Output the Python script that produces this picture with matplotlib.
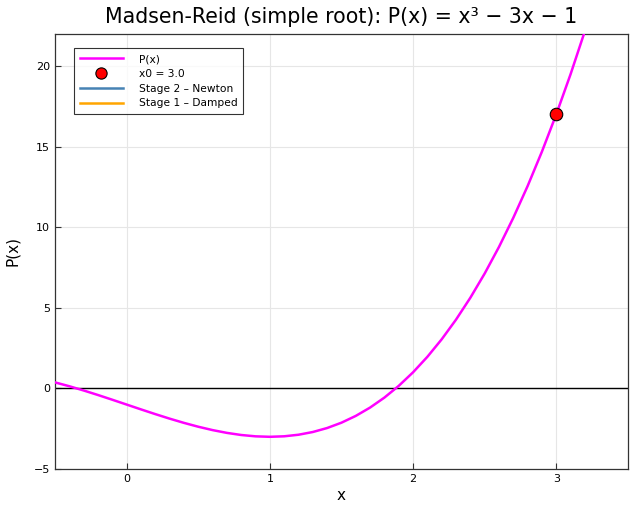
import matplotlib
matplotlib.use("Agg")
import matplotlib.pyplot as plt
import numpy as np

# Curve samples of P(x) = x^3 - 3x - 1
x_vals = [-0.5, -0.4, -0.3, -0.2, -0.1, 0.0, 0.1, 0.2, 0.3, 0.4, 0.5, 0.6, 0.7, 0.8, 0.9,
          1.0, 1.1, 1.2, 1.3, 1.4, 1.5, 1.6, 1.7, 1.8, 1.9, 2.0, 2.1, 2.2, 2.3, 2.4, 2.5,
          2.6, 2.7, 2.8, 2.9, 3.0, 3.1, 3.2, 3.3]
p_vals = [0.375, 0.136, -0.127, -0.408, -0.701, -1.0, -1.299, -1.592, -1.873, -2.136, -2.375,
          -2.584, -2.757, -2.888, -2.971, -3.0, -2.969, -2.872, -2.703, -2.456, -2.125, -1.704,
          -1.187, -0.568, 0.159, 1.0, 1.961, 3.048, 4.267, 5.624, 7.125, 8.776, 10.583, 12.552,
          14.689, 17.0, 19.491, 22.168, 25.037]
x0 = [3.0]
p_x0 = [17.0]
x_ticks = [0, 1, 2, 3]
y_ticks = [-5, 0, 5, 10, 15, 20]

fig = plt.figure(figsize=(6.4, 5.2), dpi=100)
ax = fig.add_axes([0.086, 0.098, 0.895, 0.837])

ax.plot(x_vals, p_vals, color="#ff00ff", lw=1.8, label="P(x)", zorder=3)
ax.plot(x0, p_x0, ls="none", marker="o", ms=9, mfc="red", mec="black", mew=0.8,
        label="x0 = 3.0", zorder=5)
ax.plot([], [], color="#4682b4", lw=1.8, label="Stage 2 – Newton")
ax.plot([], [], color="orange", lw=1.8, label="Stage 1 – Damped")
ax.axhline(0, color="black", lw=1.0, zorder=2)

ax.set_xlim(-0.5, 3.5)
ax.set_ylim(-5, 22)
ax.set_xticks(x_ticks)
ax.set_yticks(y_ticks)
ax.set_xticklabels([str(t) for t in x_ticks])
ax.set_yticklabels([str(t).replace("-", "\u2212") for t in y_ticks])
ax.grid(True, color="#e6e6e6", lw=0.8, zorder=0)
ax.tick_params(direction="in", length=4, labelsize=8, color="#333333")
for s in ax.spines.values():
    s.set_color("#333333")
    s.set_linewidth(0.9)

ax.set_xlabel("x", fontsize=11, labelpad=3)
ax.set_ylabel("P(x)", fontsize=11, labelpad=10)
ax.set_title("Madsen-Reid (simple root): P(x) = x³ − 3x − 1", fontsize=14.8, pad=8)

leg = ax.legend(loc="upper left", bbox_to_anchor=(0.033, 0.967), fontsize=7.7, frameon=True,
                fancybox=False, edgecolor="black", borderpad=0.55, labelspacing=0.45,
                handlelength=4.0, handletextpad=1.5, borderaxespad=0, markerscale=0.9)
leg.get_frame().set_linewidth(0.8)

fig.savefig("out.png", dpi=100)
